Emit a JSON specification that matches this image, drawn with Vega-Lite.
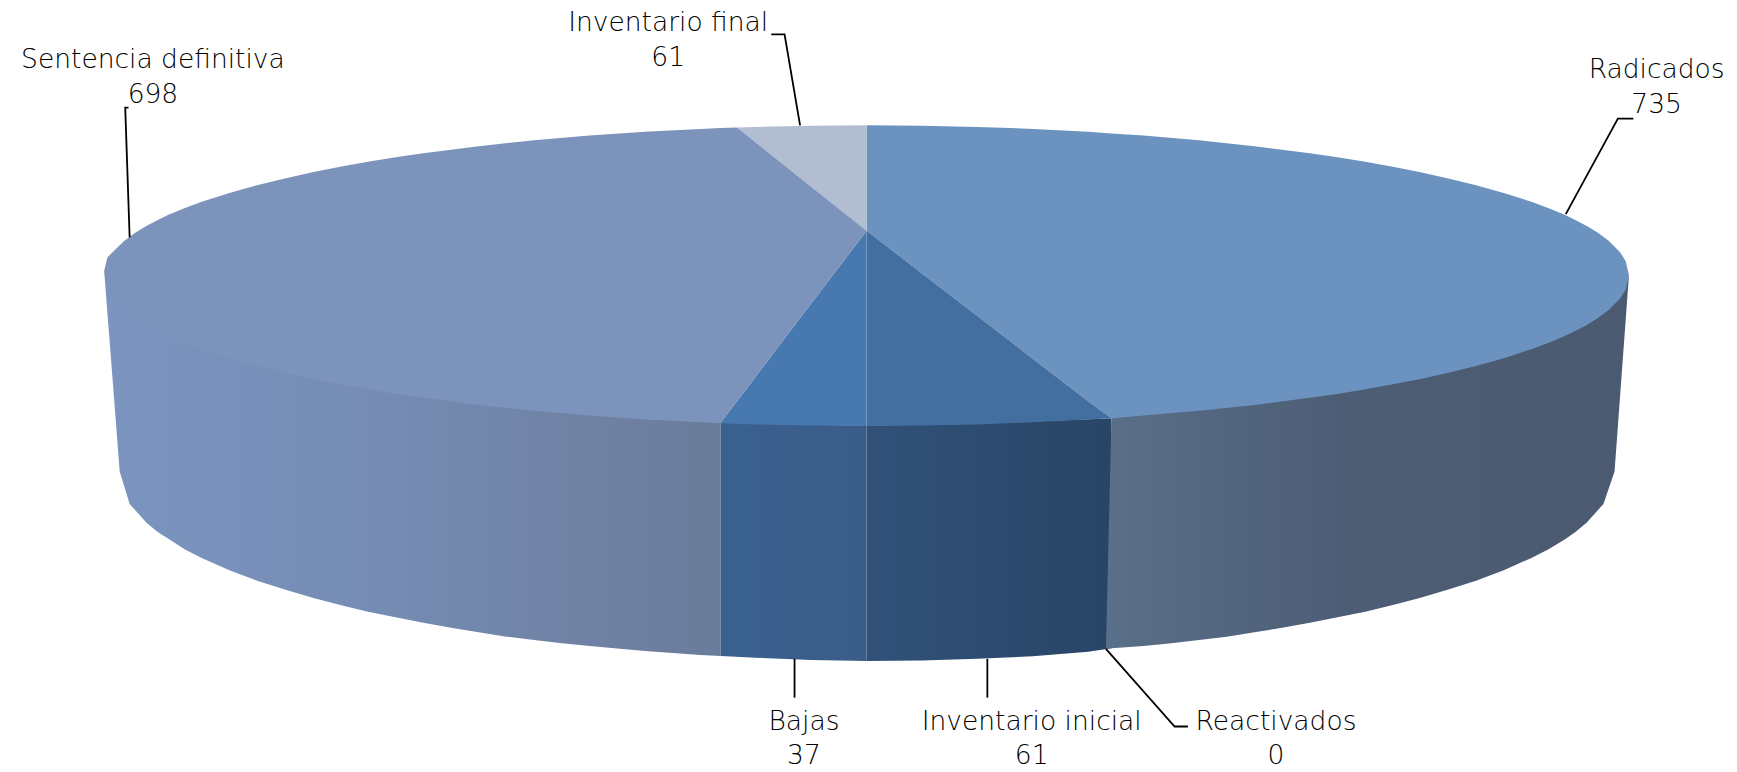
{"$schema":"https://vega.github.io/schema/vega-lite/v6.json","width":1737,"height":772,"autosize":{"type":"fit","contains":"padding"},"padding":0,"background":"white","config":{"view":{"stroke":null}},
"datasets":{
"labels":[
{"nombre":"Radicados","valor":735,"x":1495,"yNombre":63,"yValor":95},
{"nombre":"Sentencia definitiva","valor":698,"x":138,"yNombre":54,"yValor":86},
{"nombre":"Inventario final","valor":61,"x":603,"yNombre":21,"yValor":52},
{"nombre":"Bajas","valor":37,"x":725.5,"yNombre":651,"yValor":681.5},
{"nombre":"Inventario inicial","valor":61,"x":931,"yNombre":651,"yValor":681.5},
{"nombre":"Reactivados","valor":0,"x":1151.5,"yNombre":651,"yValor":681.5}],
"leaders":[
{"s":"Radicados","o":1,"x":1413,"y":193},{"s":"Radicados","o":2,"x":1460,"y":107},{"s":"Radicados","o":3,"x":1474,"y":107},
{"s":"Sentencia definitiva","o":1,"x":117,"y":214},{"s":"Sentencia definitiva","o":2,"x":113,"y":97},{"s":"Sentencia definitiva","o":3,"x":116,"y":97},
{"s":"Inventario final","o":1,"x":722,"y":113},{"s":"Inventario final","o":2,"x":708,"y":31},{"s":"Inventario final","o":3,"x":696,"y":31},
{"s":"Bajas","o":1,"x":717,"y":594},{"s":"Bajas","o":2,"x":717,"y":629},
{"s":"Inventario inicial","o":1,"x":891,"y":594},{"s":"Inventario inicial","o":2,"x":891,"y":629},
{"s":"Reactivados","o":1,"x":998,"y":585},{"s":"Reactivados","o":2,"x":1060,"y":655},{"s":"Reactivados","o":3,"x":1072,"y":655}],
"walls":[
{"s":"Inventario inicial","x":782,"y":383.5,"y2":596},{"s":"Inventario inicial","x":832,"y":383,"y2":595.5},{"s":"Inventario inicial","x":882,"y":382,"y2":594},{"s":"Inventario inicial","x":932,"y":380,"y2":591.7},{"s":"Inventario inicial","x":982,"y":378,"y2":587.5},{"s":"Inventario inicial","x":1003,"y":377,"y2":584.5},
{"s":"Radicados","x":998,"y":585.5,"y2":585.5},{"s":"Radicados","x":1003,"y":377,"y2":584.5},{"s":"Radicados","x":1032,"y":372,"y2":582.5},{"s":"Radicados","x":1057,"y":370,"y2":580},{"s":"Radicados","x":1082,"y":368,"y2":577},{"s":"Radicados","x":1107,"y":365,"y2":574},{"s":"Radicados","x":1132,"y":362,"y2":570},{"s":"Radicados","x":1157,"y":359,"y2":566},{"s":"Radicados","x":1182,"y":356,"y2":561.5},{"s":"Radicados","x":1207,"y":352,"y2":556.5},{"s":"Radicados","x":1232,"y":348,"y2":551.5},{"s":"Radicados","x":1257,"y":344,"y2":545.5},{"s":"Radicados","x":1282,"y":339,"y2":539},{"s":"Radicados","x":1307,"y":333,"y2":531.5},{"s":"Radicados","x":1332,"y":327,"y2":523.5},{"s":"Radicados","x":1357,"y":320,"y2":514},{"s":"Radicados","x":1382,"y":312,"y2":503},{"s":"Radicados","x":1397,"y":306,"y2":495.5},{"s":"Radicados","x":1412,"y":300,"y2":486.4},{"s":"Radicados","x":1422,"y":295,"y2":479.4},{"s":"Radicados","x":1432,"y":290,"y2":471},{"s":"Radicados","x":1447,"y":280,"y2":454.3},{"s":"Radicados","x":1457,"y":270,"y2":425},{"s":"Radicados","x":1462,"y":265,"y2":357},{"s":"Radicados","x":1467,"y":258,"y2":289},{"s":"Radicados","x":1470,"y":248,"y2":248},
{"s":"Bajas","x":650.5,"y":381,"y2":591.5},{"s":"Bajas","x":682,"y":382,"y2":593},{"s":"Bajas","x":732,"y":383,"y2":595},{"s":"Bajas","x":782,"y":383.5,"y2":596},
{"s":"Sentencia definitiva","x":94,"y":244,"y2":244},{"s":"Sentencia definitiva","x":97,"y":250,"y2":283},{"s":"Sentencia definitiva","x":102,"y":250,"y2":347},{"s":"Sentencia definitiva","x":108,"y":250,"y2":425},{"s":"Sentencia definitiva","x":117,"y":255,"y2":454.3},{"s":"Sentencia definitiva","x":132,"y":270,"y2":471},{"s":"Sentencia definitiva","x":142,"y":280,"y2":479.4},{"s":"Sentencia definitiva","x":167,"y":295,"y2":495.5},{"s":"Sentencia definitiva","x":182,"y":305,"y2":503},{"s":"Sentencia definitiva","x":207,"y":315,"y2":514},{"s":"Sentencia definitiva","x":232,"y":325,"y2":523.5},{"s":"Sentencia definitiva","x":257,"y":330,"y2":531.5},{"s":"Sentencia definitiva","x":282,"y":338,"y2":539},{"s":"Sentencia definitiva","x":307,"y":342,"y2":545.5},{"s":"Sentencia definitiva","x":332,"y":348,"y2":551.5},{"s":"Sentencia definitiva","x":357,"y":352,"y2":556.5},{"s":"Sentencia definitiva","x":382,"y":356,"y2":561.5},{"s":"Sentencia definitiva","x":407,"y":358,"y2":566},{"s":"Sentencia definitiva","x":432,"y":362,"y2":570},{"s":"Sentencia definitiva","x":457,"y":365,"y2":574},{"s":"Sentencia definitiva","x":482,"y":368,"y2":577},{"s":"Sentencia definitiva","x":507,"y":370,"y2":580},{"s":"Sentencia definitiva","x":532,"y":372,"y2":582.5},{"s":"Sentencia definitiva","x":582,"y":376,"y2":587},{"s":"Sentencia definitiva","x":632,"y":379,"y2":590.5},{"s":"Sentencia definitiva","x":650.5,"y":381,"y2":591.5}],
"tops":[
{"s":"Radicados","x":782,"y":113,"y2":208},{"s":"Radicados","x":832,"y":113.4,"y2":246.5},{"s":"Radicados","x":882,"y":114.4,"y2":284.9},{"s":"Radicados","x":932,"y":116.2,"y2":323.4},{"s":"Radicados","x":982,"y":118.8,"y2":361.8},{"s":"Radicados","x":1003,"y":120.3,"y2":377},{"s":"Radicados","x":1032,"y":122.2,"y2":374.7},{"s":"Radicados","x":1082,"y":126.5,"y2":370.4},{"s":"Radicados","x":1132,"y":131.8,"y2":365.1},{"s":"Radicados","x":1182,"y":138.2,"y2":358.7},{"s":"Radicados","x":1207,"y":141.8,"y2":355.1},{"s":"Radicados","x":1232,"y":145.9,"y2":351},{"s":"Radicados","x":1257,"y":150.3,"y2":346.5},{"s":"Radicados","x":1282,"y":155.3,"y2":341.6},{"s":"Radicados","x":1307,"y":160.9,"y2":336.1},{"s":"Radicados","x":1332,"y":166.9,"y2":329.9},{"s":"Radicados","x":1357,"y":173.9,"y2":322.9},{"s":"Radicados","x":1382,"y":181.9,"y2":314.8},{"s":"Radicados","x":1397,"y":187.5,"y2":309.2},{"s":"Radicados","x":1412,"y":193.7,"y2":303},{"s":"Radicados","x":1422,"y":198.5,"y2":298.2},{"s":"Radicados","x":1432,"y":203.8,"y2":292.9},{"s":"Radicados","x":1442,"y":209.9,"y2":286.8},{"s":"Radicados","x":1452,"y":217.3,"y2":279.3},{"s":"Radicados","x":1462,"y":227.5,"y2":269.1},{"s":"Radicados","x":1467,"y":235.4,"y2":261.2},{"s":"Radicados","x":1470,"y":248,"y2":248},
{"s":"Inventario inicial","x":782,"y":208,"y2":384},{"s":"Inventario inicial","x":832,"y":246.5,"y2":383.6},{"s":"Inventario inicial","x":882,"y":284.9,"y2":382.6},{"s":"Inventario inicial","x":932,"y":323.4,"y2":380.7},{"s":"Inventario inicial","x":982,"y":361.8,"y2":378.1},{"s":"Inventario inicial","x":1003,"y":377,"y2":377},
{"s":"Bajas","x":650,"y":381.5,"y2":381.5},{"s":"Bajas","x":682,"y":339.4,"y2":382.6},{"s":"Bajas","x":732,"y":273.7,"y2":383.6},{"s":"Bajas","x":782,"y":208,"y2":384},
{"s":"Inventario final","x":665,"y":115,"y2":115},{"s":"Inventario final","x":682,"y":114.4,"y2":128.5},{"s":"Inventario final","x":732,"y":113.4,"y2":168.3},{"s":"Inventario final","x":782,"y":113,"y2":208},
{"s":"Sentencia definitiva","x":94,"y":244,"y2":244},{"s":"Sentencia definitiva","x":97,"y":232,"y2":258},{"s":"Sentencia definitiva","x":102,"y":227,"y2":269},{"s":"Sentencia definitiva","x":112,"y":217.3,"y2":279.3},{"s":"Sentencia definitiva","x":122,"y":209.9,"y2":286.8},{"s":"Sentencia definitiva","x":132,"y":203.8,"y2":292.9},{"s":"Sentencia definitiva","x":142,"y":198.5,"y2":298.2},{"s":"Sentencia definitiva","x":152,"y":193.7,"y2":303},{"s":"Sentencia definitiva","x":167,"y":187.5,"y2":309.2},{"s":"Sentencia definitiva","x":182,"y":181.9,"y2":314.8},{"s":"Sentencia definitiva","x":207,"y":173.9,"y2":322.9},{"s":"Sentencia definitiva","x":232,"y":166.9,"y2":329.9},{"s":"Sentencia definitiva","x":257,"y":160.9,"y2":336.1},{"s":"Sentencia definitiva","x":282,"y":155.3,"y2":341.6},{"s":"Sentencia definitiva","x":307,"y":150.3,"y2":346.5},{"s":"Sentencia definitiva","x":332,"y":145.9,"y2":351},{"s":"Sentencia definitiva","x":357,"y":141.8,"y2":355.1},{"s":"Sentencia definitiva","x":382,"y":138.2,"y2":358.7},{"s":"Sentencia definitiva","x":432,"y":131.8,"y2":365.1},{"s":"Sentencia definitiva","x":482,"y":126.5,"y2":370.4},{"s":"Sentencia definitiva","x":532,"y":122.2,"y2":374.7},{"s":"Sentencia definitiva","x":582,"y":118.8,"y2":378.1},{"s":"Sentencia definitiva","x":632,"y":116.2,"y2":380.7},{"s":"Sentencia definitiva","x":650,"y":115.5,"y2":381.5},{"s":"Sentencia definitiva","x":665,"y":115,"y2":361.8},{"s":"Sentencia definitiva","x":682,"y":128.5,"y2":339.4},{"s":"Sentencia definitiva","x":732,"y":168.3,"y2":273.7},{"s":"Sentencia definitiva","x":782,"y":208,"y2":208}]
},
"encoding":{
"x":{"field":"x","type":"quantitative","scale":{"domain":[0,1567.5],"nice":false,"zero":false},"axis":null},
"y":{"field":"y","type":"quantitative","scale":{"domain":[696,0],"nice":false,"zero":false},"axis":null,"stack":null}
},
"layer":[
{"data":{"name":"walls"},"transform":[{"filter":"datum.s==='Inventario inicial'"}],"mark":{"type":"area","color":{"gradient":"linear","x1":0,"y1":0,"x2":1,"y2":0,"stops":[{"offset":0,"color":"#315179"},{"offset":1,"color":"#294566"}]}},"encoding":{"y2":{"field":"y2"}}},
{"data":{"name":"walls"},"transform":[{"filter":"datum.s==='Radicados'"}],"mark":{"type":"area","color":{"gradient":"linear","x1":0,"y1":0,"x2":1,"y2":0,"stops":[{"offset":0,"color":"#5a6f89"},{"offset":0.45,"color":"#4d5d75"},{"offset":1,"color":"#4b5a70"}]}},"encoding":{"y2":{"field":"y2"}}},
{"data":{"name":"walls"},"transform":[{"filter":"datum.s==='Bajas'"}],"mark":{"type":"area","color":{"gradient":"linear","x1":0,"y1":0,"x2":1,"y2":0,"stops":[{"offset":0,"color":"#3a618f"},{"offset":1,"color":"#3a5c88"}]}},"encoding":{"y2":{"field":"y2"}}},
{"data":{"name":"walls"},"transform":[{"filter":"datum.s==='Sentencia definitiva'"}],"mark":{"type":"area","color":{"gradient":"linear","x1":0,"y1":0,"x2":1,"y2":0,"stops":[{"offset":0,"color":"#7b95c0"},{"offset":0.4,"color":"#768db5"},{"offset":0.75,"color":"#7083a6"},{"offset":1,"color":"#697c9a"}]}},"encoding":{"y2":{"field":"y2"}}},
{"data":{"name":"tops"},"mark":{"type":"area"},"encoding":{"y2":{"field":"y2"},"color":{"field":"s","type":"nominal","legend":null,"scale":{"domain":["Radicados","Inventario inicial","Bajas","Sentencia definitiva","Inventario final"],"range":["#6c93bf","#426f9f","#4878b0","#7c93bb","#b3bdd2"]}}}},
{"data":{"name":"leaders"},"mark":{"type":"line","color":"#000000","strokeWidth":1.8},"encoding":{"detail":{"field":"s"},"order":{"field":"o","type":"quantitative"}}},
{"data":{"name":"labels"},"mark":{"type":"text","font":"DejaVu Sans","fontWeight":200,"fontSize":26.5,"color":"#000000","align":"center","baseline":"middle"},"encoding":{"y":{"field":"yNombre","type":"quantitative"},"text":{"field":"nombre"}}},
{"data":{"name":"labels"},"mark":{"type":"text","font":"DejaVu Sans","fontWeight":200,"fontSize":26.5,"color":"#000000","align":"center","baseline":"middle"},"encoding":{"y":{"field":"yValor","type":"quantitative"},"text":{"field":"valor","type":"quantitative","format":"d"}}}
]}
